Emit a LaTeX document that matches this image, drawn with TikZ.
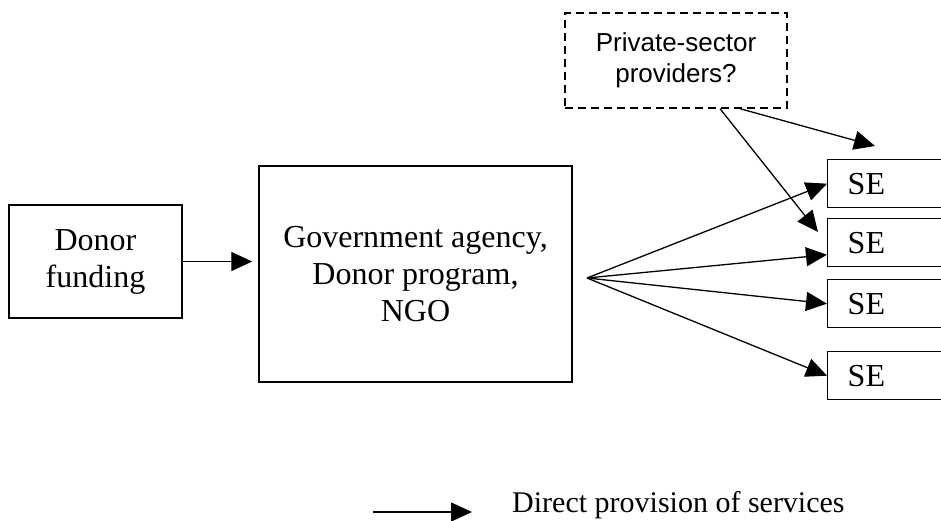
\documentclass[tikz,border=0pt]{standalone}
\usepackage{fontspec}
\setmainfont{Liberation Serif}
\setsansfont{Liberation Sans}
\usepackage{tikz}
\usetikzlibrary{arrows,arrows.meta,positioning}
\tikzset{
    %Define standard arrow tip
    >={Triangle[length=21pt,width=19pt]},
    %Define style for boxes
    box/.style={
           rectangle,
           draw=black, line width=1.4pt,
           inner sep=0pt,
           font=\fontsize{32}{37}\selectfont,
           align=center},
    dashbox/.style={
           box,
           dash pattern=on 8pt off 5pt,
           font=\fontsize{26}{31}\selectfont\sffamily},
    sebox/.style={
           box,
           anchor=north west,
           minimum width=130pt,
           minimum height=48pt,
           inner xsep=20pt,
           text width=90pt,
           align=left},
    % Define arrow style
    pil/.style={
           ->,
           line width=1.3pt}
}

\begin{document}
\begin{tikzpicture}[x=1pt,y=-1pt]
\clip (0,0) rectangle (941,521);

 %nodes
\node[box, minimum width=173pt, minimum height=113pt](donor) at (95.5,261.5){Donor\\funding};
\node[box, minimum width=313pt, minimum height=216pt](gov) at (415.5,274){Government agency,\\Donor program,\\NGO};
\node[dashbox, minimum width=222pt, minimum height=95pt](priv) at (676,60.5){Private-sector\\providers?};

\node[sebox](se1) at (827,159){SE};
\node[sebox](se2) at (827,218){SE};
\node[sebox](se3) at (827,279){SE};
\node[sebox](se4) at (827,351){SE};

\coordinate (fan) at (587,278);
\coordinate (p1) at (875,146);
\coordinate (p2) at (818,232);

 %arrows
\path[pil]
    (donor.east) edge[shorten >=6pt] (gov.west |- donor.east)
    (fan) edge (se1.west)
    (fan) edge ([yshift=-12pt]se2.west)
    (fan) edge (se3.west)
    (fan) edge (se4.west)
    ([xshift=64pt]priv.south) edge (p1)
    ([xshift=44pt]priv.south) edge (p2);

 %legend
\coordinate (leg) at (373,512);
\coordinate (legend) at (472,512);
\node[anchor=base west, inner sep=0pt, font=\fontsize{30}{36}\selectfont](legtext) at (512,512){Direct provision of services};
\draw[pil] (leg) -- (legend);
\end{tikzpicture}
\end{document}
